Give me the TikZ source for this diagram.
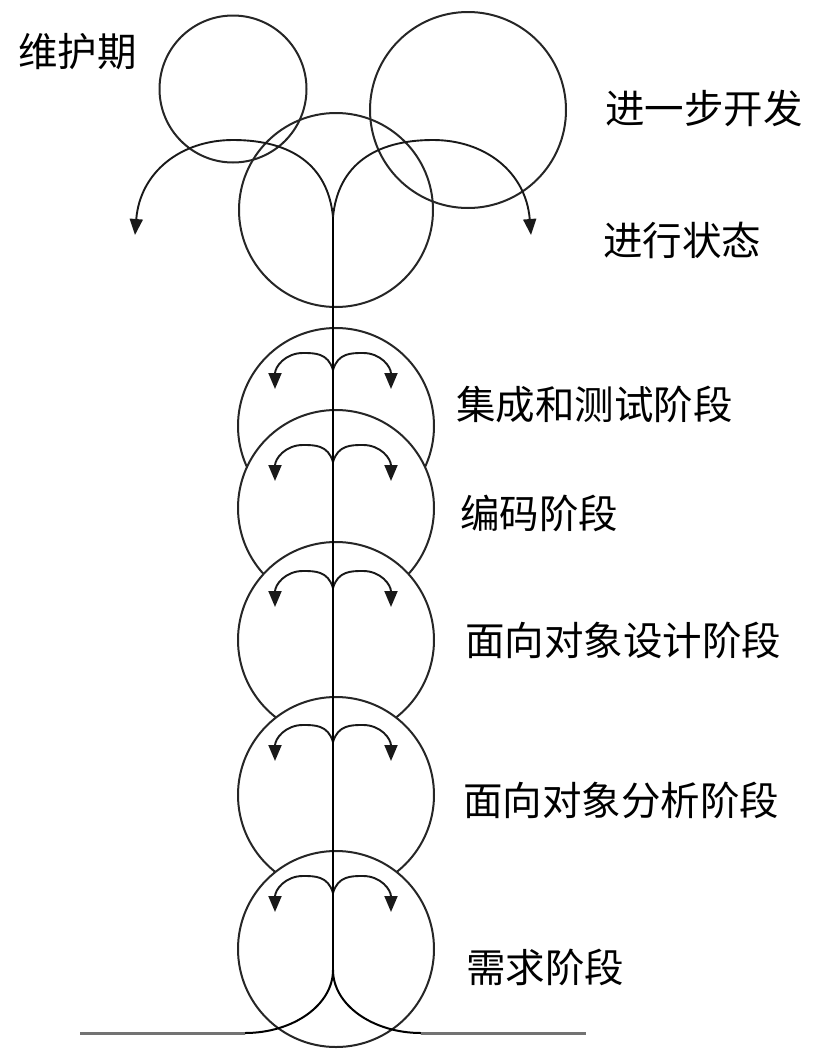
\documentclass[tikz,border=0pt]{standalone}
\usepackage{fontspec}
\newfontfamily\cjkfont{Noto Sans CJK SC}
\usetikzlibrary{arrows.meta}
\begin{document}
\begin{tikzpicture}[x=1pt,y=-1pt,
  ring/.style={circle,draw=black!85,line width=2pt,inner sep=0pt},
  stagering/.style={ring,fill=white},
  flow/.style={line width=1.9pt,draw=black!90,-{Triangle[length=16pt,width=13pt]}},
  stem/.style={line width=2pt,draw=black},
  ground/.style={line width=3pt,draw=black!55},
  lbl/.style={anchor=west,inner sep=0pt,font=\cjkfont\fontsize{39.5}{39.5}\selectfont},
]
\useasboundingbox (0,0) rectangle (816,1050);

% top circles
\node[ring,minimum size=147pt] (maint) at (233,89) {};
\node[ring,minimum size=196pt] (dev) at (468,110) {};
\node[ring,minimum size=194pt] (run) at (336,210) {};

% stage circles (lower ones drawn over upper ones)
\node[stagering,minimum size=196pt] (s1) at (336,426) {};
\node[stagering,minimum size=196pt] (s2) at (336,508) {};
\node[stagering,minimum size=196pt] (s3) at (336,640) {};
\node[stagering,minimum size=196pt] (s4) at (336,795) {};
\node[stagering,minimum size=196pt] (s5) at (336,949) {};

% cusps
\coordinate (c0) at (333,217);
\coordinate (c1) at (333,370);
\coordinate (c2) at (333,462);
\coordinate (c3) at (333,588);
\coordinate (c4) at (333,742);
\coordinate (c5) at (333,893);
\coordinate (b) at (333,970);
\coordinate (tl) at (233,140);
\coordinate (tr) at (433,140);
\coordinate (tipL) at (135,235);
\coordinate (tipR) at (531,235);
\coordinate (gL) at (245,1033);
\coordinate (gR) at (421,1033);
\coordinate (gLend) at (80,1033);
\coordinate (gRend) at (586,1033);

% big top arrows
\draw[flow] (c0) .. controls +(-5,-52) and +(58,0) .. (tl) .. controls +(-52,0) and +(5,-63) .. (tipL);
\draw[flow] (c0) .. controls +(5,-52) and +(-58,0) .. (tr) .. controls +(52,0) and +(-5,-63) .. (tipR);

% stage arrows
\foreach \c in {c1,c2,c3,c4,c5}{
  \draw[flow] (\c) .. controls +(-5,-17) and +(12,0) .. ([shift={(-30,-17)}]\c) .. controls +(-18,0) and +(0,-22) .. ([shift={(-58,19)}]\c);
  \draw[flow] (\c) .. controls +(5,-17) and +(-12,0) .. ([shift={(30,-17)}]\c) .. controls +(18,0) and +(0,-22) .. ([shift={(58,19)}]\c);
}

% stem
\draw[stem] (c0) -- (b);

% base
\draw[stem] (b) .. controls +(0,35) and +(48,0) .. (gL);
\draw[stem] (b) .. controls +(0,35) and +(-48,0) .. (gR);
\draw[ground] (gL) -- (gLend);
\draw[ground] (gR) -- (gRend);

% labels
\node[lbl] (lmaint) at (18,52) {维护期};
\node[lbl] (ldev) at (605,108) {进一步开发};
\node[lbl] (lrun) at (603,240) {进行状态};
\node[lbl] (l1) at (456,405) {集成和测试阶段};
\node[lbl] (l2) at (460,513) {编码阶段};
\node[lbl] (l3) at (465,640) {面向对象设计阶段};
\node[lbl] (l4) at (463,800) {面向对象分析阶段};
\node[lbl] (l5) at (466,967) {需求阶段};
\end{tikzpicture}
\end{document}
